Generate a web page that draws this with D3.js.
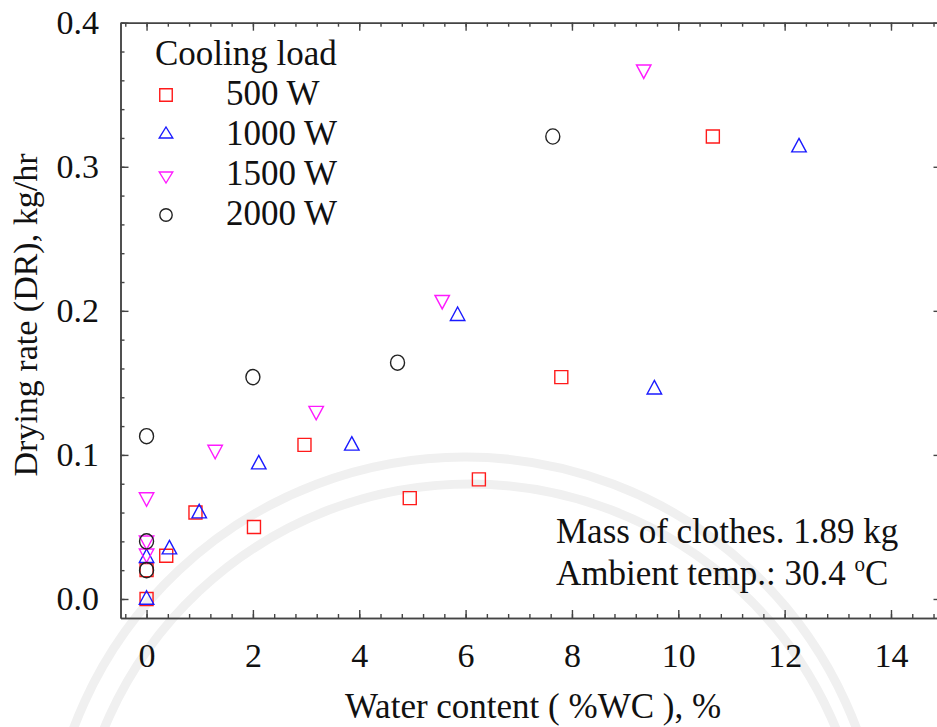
<!DOCTYPE html>
<html>
<head>
<meta charset="utf-8">
<script src="https://cdn.jsdelivr.net/npm/d3@7/dist/d3.min.js"></script>
</head>
<body style="margin:0">
<svg id="chart" width="937" height="727"></svg>
<script>
// ---------------- data ----------------
const seriesNames = ["500 W", "1000 W", "1500 W", "2000 W"];
const legendTitle = "Cooling load";

const wc500 = [0, 0, 0.37, 0.92, 2.02, 2.97, 4.95, 6.25, 7.80, 10.65];
const dr500 = [0.000, 0.020, 0.030, 0.060, 0.050, 0.107, 0.070, 0.083, 0.154, 0.321];

const wc1000 = [0, 0, 0.43, 0.99, 2.11, 3.86, 5.85, 9.55, 12.27];
const dr1000 = [0.001, 0.030, 0.036, 0.061, 0.095, 0.108, 0.198, 0.147, 0.315];

const wc1500 = [0, 0, 0, 1.29, 3.19, 5.56, 9.35];
const dr1500 = [0.030, 0.039, 0.069, 0.102, 0.129, 0.206, 0.366];

const wc2000 = [0, 0, 0, 2.00, 4.72, 7.64];
const dr2000 = [0.020, 0.040, 0.113, 0.154, 0.164, 0.321];

const xTicks = [0, 2, 4, 6, 8, 10, 12, 14];
const xTickLabels = ["0", "2", "4", "6", "8", "10", "12", "14"];
const yTicks = [0, 0.1, 0.2, 0.3, 0.4];
const yTickLabels = ["0.0", "0.1", "0.2", "0.3", "0.4"];

const xTitle = "Water content ( %WC ), %";
const yTitle = "Drying rate (DR), kg/hr";
const note1 = "Mass of clothes. 1.89 kg";
const note2a = "Ambient temp.: 30.4 ";
const note2deg = "o";
const note2b = "C";

// ---------------- layout ----------------
const FONT = "Tinos, 'Times New Roman', Times, FreeSerif";
const svg = d3.select("#chart");
const L = 120.5, T = 22.7, B = 618, R = 941.5;

const x = d3.scaleLinear().domain([-0.49, 14.95]).range([L, R]);
const y = d3.scaleLinear().domain([-0.0132, 0.4]).range([B, T]);

// faint watermark arcs (background decoration)
const wm = svg.append("g").attr("fill", "none").attr("stroke", "#f0f0f0").attr("stroke-width", 9);
[[465, 875, 418], [470, 880, 396]].forEach(([cx, cy, r]) => {
  const p = d3.path();
  p.arc(cx, cy, r, Math.PI * 1.02, Math.PI * 1.98);
  wm.append("path").attr("d", p.toString());
});

// ---------------- axes ----------------
const axisColor = "#444";
const fontTick = 34;

function styleAxis(g) {
  g.attr("font-family", null).attr("font-size", null);
  g.selectAll("path.domain").attr("stroke", axisColor).attr("stroke-width", 1.5);
  g.selectAll(".tick line").attr("stroke", axisColor).attr("stroke-width", 1.4);
  g.selectAll("text").style("font-family", FONT).attr("font-size", fontTick).attr("fill", "#111");
}

const xMinor = d3.range(-0.4, 15.0, 0.4).map(v => +v.toFixed(2));
const yMinor = d3.range(-0.0, 0.401, 0.02).map(v => +v.toFixed(3));

// bottom
svg.append("g").attr("transform", `translate(0,${B})`)
  .call(d3.axisBottom(x).tickValues(xMinor).tickSize(-4).tickSizeOuter(0).tickFormat(""))
  .call(styleAxis);
svg.append("g").attr("transform", `translate(0,${B})`)
  .call(d3.axisBottom(x).tickValues(xTicks).tickSize(-8).tickSizeOuter(0).tickPadding(25)
        .tickFormat((d, i) => xTickLabels[i]))
  .call(styleAxis);
// top
svg.append("g").attr("transform", `translate(0,${T})`)
  .call(d3.axisTop(x).tickValues(xMinor).tickSize(-4).tickSizeOuter(0).tickFormat(""))
  .call(styleAxis);
svg.append("g").attr("transform", `translate(0,${T})`)
  .call(d3.axisTop(x).tickValues(xTicks).tickSize(-8).tickSizeOuter(0).tickFormat(""))
  .call(styleAxis);
// left
svg.append("g").attr("transform", `translate(${L},0)`)
  .call(d3.axisLeft(y).tickValues(yMinor).tickSize(-4).tickSizeOuter(0).tickFormat(""))
  .call(styleAxis);
svg.append("g").attr("transform", `translate(${L},0)`)
  .call(d3.axisLeft(y).tickValues(yTicks).tickSize(-8).tickSizeOuter(0).tickPadding(21.5)
        .tickFormat((d, i) => yTickLabels[i]))
  .call(styleAxis);
// right
svg.append("g").attr("transform", `translate(${R},0)`)
  .call(d3.axisRight(y).tickValues(yMinor).tickSize(-4).tickSizeOuter(0).tickFormat(""))
  .call(styleAxis);
svg.append("g").attr("transform", `translate(${R},0)`)
  .call(d3.axisRight(y).tickValues(yTicks).tickSize(-8).tickSizeOuter(0).tickFormat(""))
  .call(styleAxis);

function txt(sel, size) {
  return sel.style("font-family", FONT).attr("font-size", size).attr("fill", "#111");
}

// ---------------- axis titles ----------------
txt(svg.append("text"), 35)
  .attr("x", 533).attr("y", 718)
  .attr("text-anchor", "middle")
  .text(xTitle);

txt(svg.append("text"), 34)
  .attr("transform", "translate(37,315) rotate(-90)")
  .attr("text-anchor", "middle")
  .text(yTitle);

// ---------------- markers ----------------
function markerPath(type, s) {
  const p = d3.path();
  if (type === "square") {
    const h = s.w / 2;
    p.rect(-h, -h, s.w, s.w);
  } else if (type === "up") {
    p.moveTo(0, -s.h / 2); p.lineTo(s.w / 2, s.h / 2); p.lineTo(-s.w / 2, s.h / 2); p.closePath();
  } else if (type === "down") {
    p.moveTo(-s.w / 2, -s.h / 2); p.lineTo(s.w / 2, -s.h / 2); p.lineTo(0, s.h / 2); p.closePath();
  }
  return p.toString();
}

const styles = [
  { type: "square", color: "#ff1a1a", plot: { w: 13 }, leg: { w: 12.5 } },
  { type: "up", color: "#1a1aff", plot: { w: 14.5, h: 13.5 }, leg: { w: 13.5, h: 11 } },
  { type: "down", color: "#ff1aff", plot: { w: 14.5, h: 13.5 }, leg: { w: 13.5, h: 11 } },
  { type: "circle", color: "#222222", plot: { rx: 7, ry: 7.6 }, leg: { rx: 6.2, ry: 6.2 } }
];

const dataSets = [
  d3.zip(wc500, dr500),
  d3.zip(wc1000, dr1000),
  d3.zip(wc1500, dr1500),
  d3.zip(wc2000, dr2000)
];

function drawMarker(g, st, size, cx, cy) {
  if (st.type === "circle") {
    g.append("ellipse").attr("cx", cx).attr("cy", cy).attr("rx", size.rx).attr("ry", size.ry)
      .attr("fill", "none").attr("stroke", st.color).attr("stroke-width", 1.4);
  } else {
    g.append("path").attr("d", markerPath(st.type, size))
      .attr("transform", `translate(${cx},${cy})`)
      .attr("fill", "none").attr("stroke", st.color).attr("stroke-width", 1.4);
  }
}

const marks = svg.append("g");
dataSets.forEach((ds, i) => {
  const g = marks.append("g").attr("class", "series-" + i);
  ds.forEach(([wc, dr]) => drawMarker(g, styles[i], styles[i].plot, x(wc), y(dr)));
});

// ---------------- legend ----------------
const leg = svg.append("g");
txt(leg.append("text"), 35).attr("x", 155).attr("y", 65).text(legendTitle);
seriesNames.forEach((name, i) => {
  const base = 105 + i * 40;
  const st = styles[i];
  let shift = 0;
  if (st.type === "up") shift = -2.5;
  if (st.type === "down") shift = 2.5;
  drawMarker(leg, st, st.leg, 166, base - 10 + shift);
  txt(leg.append("text"), 35).attr("x", 226).attr("y", base).text(name);
});

// ---------------- annotation ----------------
txt(svg.append("text"), 35).attr("x", 556).attr("y", 543).text(note1);
const t2 = txt(svg.append("text"), 35).attr("x", 556).attr("y", 585);
t2.append("tspan").text(note2a);
t2.append("tspan").attr("font-size", 21).attr("dy", -14).text(note2deg);
t2.append("tspan").attr("font-size", 35).attr("dy", 14).text(note2b);
</script>
</body>
</html>
